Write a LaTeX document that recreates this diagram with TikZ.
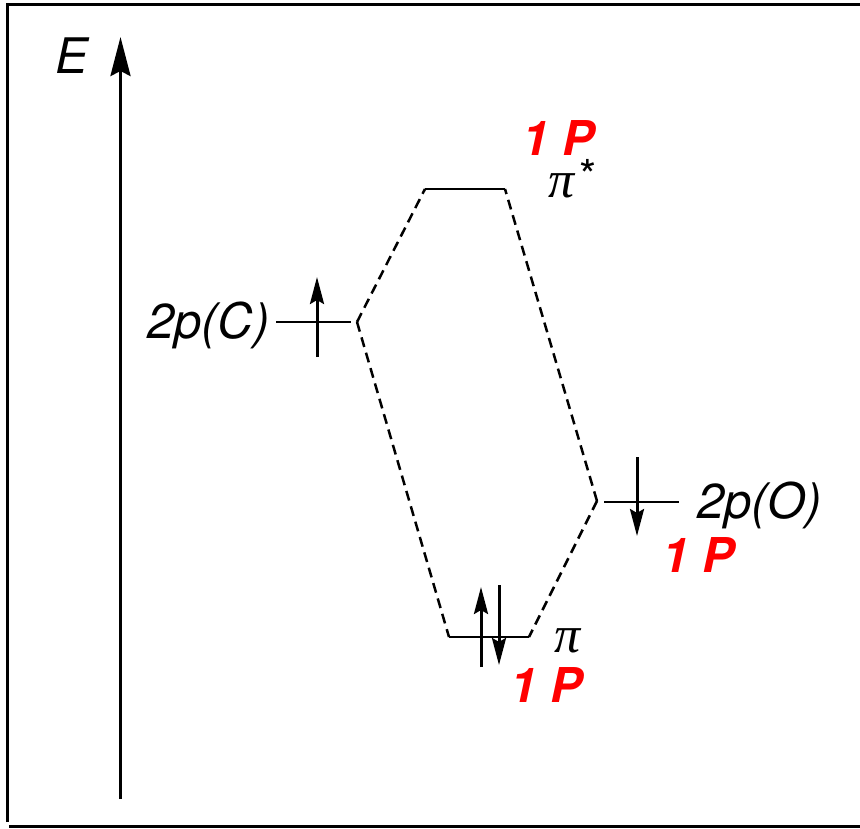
\documentclass[tikz,border=0pt]{standalone}
\usepackage{fontspec}
\setmainfont{TeX Gyre Heros}
\newfontfamily\pifont{Liberation Serif}
\usetikzlibrary{arrows.meta}
\tikzset{
  lbl/.style={inner sep=0pt,outer sep=0pt,anchor=base west,font=\fontsize{49}{49}\selectfont\itshape,text=black},
  red1p/.style={inner sep=0pt,outer sep=0pt,anchor=base west,font=\fontsize{48}{48}\selectfont\bfseries\itshape,text=red},
  pilbl/.style={inner sep=0pt,outer sep=0pt,anchor=base west,font=\fontsize{52}{52}\selectfont\pifont\itshape,text=black},
  frameline/.style={line width=3pt,black},
  level/.style={line width=2.5pt,black},
  corr/.style={line width=2.5pt,black,dash pattern=on 10pt off 6pt},
  axisarrow/.style={line width=3.2pt,black,-{Stealth[length=39pt,width=20pt,inset=5pt]}},
  spin/.style={line width=3pt,black,-{Stealth[length=27pt,width=14pt,inset=4pt]}}
}
\begin{document}
\begin{tikzpicture}[x=1pt,y=-1pt]
\useasboundingbox (0,0) rectangle (860,829);
\coordinate (fa) at (7.5,822);
\coordinate (fb) at (7.5,4.5);
\coordinate (fc) at (860,4.5);
\coordinate (fd) at (9,826);
\coordinate (fe) at (860,826);
\draw[frameline] (fa) -- (fb) -- (fc);
\draw[frameline] (fd) -- (fe);
\coordinate (axb) at (120.5,799);
\coordinate (axt) at (120.5,37);
\draw[axisarrow] (axb) -- (axt);
\node[lbl] (lE) at (55,74) {E};
% levels
\coordinate (cl) at (276,322); \coordinate (cr) at (351,322);
\coordinate (ol) at (604,502); \coordinate (or) at (679,502);
\coordinate (sl) at (425,189); \coordinate (sr) at (505,189);
\coordinate (pl) at (449,637); \coordinate (pr) at (529,637);
\coordinate (cd) at (357,322); \coordinate (od) at (597,501);
\draw[level] (cl) -- (cr);
\draw[level] (ol) -- (or);
\draw[level] (sl) -- (sr);
\draw[level] (pl) -- (pr);
% correlation lines
\draw[corr] (cd) -- (sl);
\draw[corr] (cd) -- (pl);
\draw[corr] (od) -- (sr);
\draw[corr] (od) -- (pr);
% spins
\coordinate (s1a) at (317,357); \coordinate (s1b) at (317,277);
\coordinate (s2a) at (637,457); \coordinate (s2b) at (637,536);
\coordinate (s3a) at (481,667); \coordinate (s3b) at (481,587);
\coordinate (s4a) at (499,585); \coordinate (s4b) at (499,665);
\draw[spin] (s1a) -- (s1b);
\draw[spin] (s2a) -- (s2b);
\draw[spin] (s3a) -- (s3b);
\draw[spin] (s4a) -- (s4b);
% labels
\node[lbl] (lc) at (147,338) {2p(C)};
\node[lbl] (lo) at (697,518) {2p(O)};
\node[red1p] (r1) at (522,156) {1 P};
\node[red1p] (r2) at (662,572) {1 P};
\node[red1p] (r3) at (510,702) {1 P};
\node[pilbl] (ps) at (548,198) {π};
\node[inner sep=0pt,anchor=base west,font=\fontsize{44}{44}\selectfont] (st) at (579,192) {*};
\node[pilbl] (pp) at (554,652) {π};
\end{tikzpicture}
\end{document}
